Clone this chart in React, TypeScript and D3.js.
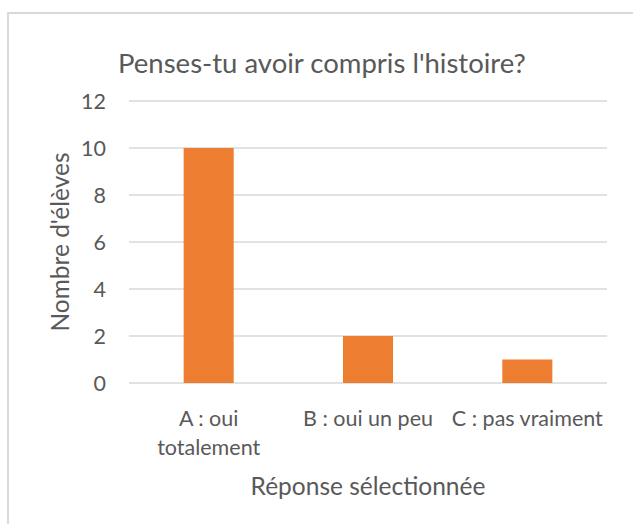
import React, { useEffect, useRef } from 'react';
import * as d3 from 'd3';

const categories = ['A : oui totalement', 'B : oui un peu', 'C : pas vraiment'];
const categoryLines = [['A : oui', 'totalement'], ['B : oui un peu'], ['C : pas vraiment']];
const counts = [10, 2, 1];
const yTicks = [0, 2, 4, 6, 8, 10, 12];

const W = 633;
const H = 524;
const FONT = 'Lato, "Open Sans", sans-serif';
const TEXT = '#595959';

const App: React.FC = () => {
  const svgRef = useRef<SVGSVGElement>(null);

  useEffect(() => {
    if (!svgRef.current) return;
    const svg = d3.select(svgRef.current).html('');

    const plot = { left: 129, right: 607, top: 101, bottom: 383 };

    const x = d3.scaleBand<string>()
      .domain(categories)
      .range([plot.left, plot.right])
      .paddingInner(0.686)
      .paddingOuter(0.343);

    const y = d3.scaleLinear()
      .domain([0, 12])
      .range([plot.bottom, plot.top]);

    // chart border
    svg.append('rect')
      .attr('x', 8)
      .attr('y', 13)
      .attr('width', W + 20)
      .attr('height', H + 20)
      .attr('fill', '#fff')
      .attr('stroke', '#d9d9d9')
      .attr('stroke-width', 2);

    // title
    svg.append('text')
      .attr('x', 322)
      .attr('y', 63)
      .attr('dy', '0.35em')
      .attr('text-anchor', 'middle')
      .style('font-family', FONT)
      .style('font-size', '27.5px')
      .style('fill', TEXT)
      .text("Penses-tu avoir compris l'histoire?");

    // gridlines
    svg.append('g')
      .selectAll('line')
      .data(yTicks)
      .join('line')
      .attr('x1', plot.left)
      .attr('x2', plot.right)
      .attr('y1', d => y(d))
      .attr('y2', d => y(d))
      .attr('stroke', '#d9d9d9')
      .attr('stroke-width', 1.5);

    // y tick labels
    svg.append('g')
      .selectAll('text')
      .data(yTicks)
      .join('text')
      .attr('x', 106)
      .attr('y', d => y(d))
      .attr('dy', '0.35em')
      .attr('text-anchor', 'end')
      .style('font-family', FONT)
      .style('font-size', '21.5px')
      .style('fill', TEXT)
      .text(d => d);

    // bars
    svg.append('g')
      .selectAll('rect')
      .data(counts)
      .join('rect')
      .attr('x', (_, i) => x(categories[i])!)
      .attr('y', d => y(d))
      .attr('width', x.bandwidth())
      .attr('height', d => y(0) - y(d))
      .attr('fill', '#ed7d31');

    // x category labels
    categoryLines.forEach((lines, i) => {
      const cx = x(categories[i])! + x.bandwidth() / 2;
      lines.forEach((line, j) => {
        svg.append('text')
          .attr('x', cx)
          .attr('y', 418 + j * 29)
          .attr('dy', '0.35em')
          .attr('text-anchor', 'middle')
          .style('font-family', FONT)
          .style('font-size', '21.5px')
          .style('fill', TEXT)
          .text(line);
      });
    });

    // axis titles
    svg.append('text')
      .attr('x', 368)
      .attr('y', 486)
      .attr('dy', '0.35em')
      .attr('text-anchor', 'middle')
      .style('font-family', FONT)
      .style('font-size', '24.5px')
      .style('fill', TEXT)
      .text('Réponse sélectionnée');

    svg.append('text')
      .attr('transform', `translate(60,${(plot.top + plot.bottom) / 2}) rotate(-90)`)
      .attr('dy', '0.35em')
      .attr('text-anchor', 'middle')
      .style('font-family', FONT)
      .style('font-size', '24.5px')
      .style('fill', TEXT)
      .text("Nombre d'élèves");
  }, []);

  return (
    <svg
      ref={svgRef}
      width={W}
      height={H}
      style={{ position: 'absolute', left: 0, top: 0, background: '#fff' }}
    />
  );
};

export default App;
